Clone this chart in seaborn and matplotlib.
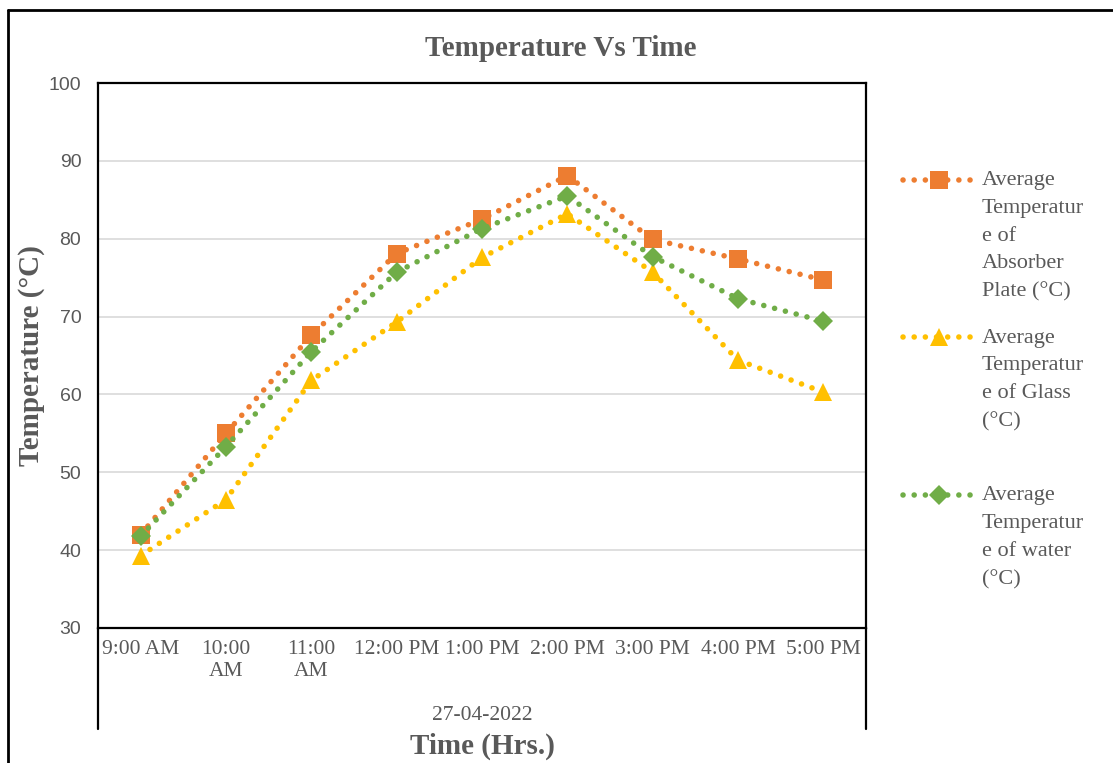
import numpy as np
import pandas as pd
import matplotlib
matplotlib.use("Agg")
import matplotlib.pyplot as plt
import seaborn as sns
from matplotlib.lines import Line2D
from matplotlib.legend_handler import HandlerLine2D

# ---- data -------------------------------------------------------------
times = ["9:00 AM", "10:00 AM", "11:00 AM", "12:00 PM", "1:00 PM",
         "2:00 PM", "3:00 PM", "4:00 PM", "5:00 PM"]
time_tick_labels = ["9:00 AM", "10:00\nAM", "11:00\nAM", "12:00 PM", "1:00 PM",
                    "2:00 PM", "3:00 PM", "4:00 PM", "5:00 PM"]
absorber_plate = [42.0, 55.0, 67.6, 78.1, 82.5, 88.1, 79.9, 77.4, 74.7]
glass = [39.3, 46.5, 61.8, 69.3, 77.6, 83.2, 75.7, 64.4, 60.3]
water = [41.8, 53.3, 65.5, 75.7, 81.3, 85.5, 77.7, 72.3, 69.4]
series_labels = [
    "Average\nTemperatur\ne of\nAbsorber\nPlate (°C)",
    "Average\nTemperatur\ne of Glass\n(°C)\n",
    "Average\nTemperatur\ne of water\n(°C)\n",
]
y_ticks = [30, 40, 50, 60, 70, 80, 90, 100]
date_label = "27-04-2022"

# ---- styling ----------------------------------------------------------
colors = ["#ED7D31", "#FFC000", "#70AD47"]
markers = ["s", "^", "D"]
marker_sizes = [13.5, 12.5, 10.5]
TEXT = "#595959"
SERIF = "Liberation Serif"
LW = 4.0
dot_style = (0, (0.01, 2.0))

sns.set_theme(style="white")
plt.rcParams["font.family"] = [SERIF, "DejaVu Sans"]

W, H = 1113, 763
fig = plt.figure(figsize=(W / 100, H / 100), dpi=100)
ax = fig.add_axes([98 / W, 1 - 628 / H, (866 - 98) / W, (628 - 83) / H])

series_values = [absorber_plate, glass, water]
for vals, col, mk, ms in zip(series_values, colors, markers, marker_sizes):
    df = pd.DataFrame({"time": times, "temp": vals})
    sns.lineplot(data=df, x="time", y="temp", ax=ax, color=col, marker=mk,
                 markersize=ms, markeredgewidth=0, linewidth=LW,
                 linestyle=dot_style, dash_capstyle="round", sort=False,
                 legend=False)

ax.set_xlim(-0.5, len(times) - 0.5)
ax.set_ylim(30, 100)
ax.set_yticks(y_ticks)
ax.set_yticklabels([str(v) for v in y_ticks], family="Liberation Sans",
                   fontsize=14, color=TEXT)
ax.set_xticks(range(len(times)))
ax.set_xticklabels(time_tick_labels, fontsize=15.5, color=TEXT, linespacing=1.2)
ax.tick_params(axis="both", length=0)
ax.tick_params(axis="y", pad=12)
ax.tick_params(axis="x", pad=9)
ax.yaxis.grid(True, color="#D9D9D9", linewidth=1.2)
ax.xaxis.grid(False)
ax.set_axisbelow(True)
for sp in ax.spines.values():
    sp.set_color("black")
    sp.set_linewidth(1.6)

# category axis frame continues below the plot area
ext = -(729 - 628) / (628 - 83)
for xa in (0, 1):
    ax.add_line(Line2D([xa, xa], [0, ext], transform=ax.transAxes,
                       color="black", linewidth=1.6, clip_on=False))

ax.text(0.5, -(716 - 628) / (628 - 83), date_label, transform=ax.transAxes,
        ha="center", va="center", fontsize=15.5, color=TEXT)
ax.set_xlabel("Time (Hrs.)", fontsize=21, fontweight="bold", color=TEXT,
              va="center")
ax.xaxis.set_label_coords(0.5, -(746 - 628) / (628 - 83))
ax.set_ylabel("Temperature (°C)", fontsize=21, fontweight="bold", color=TEXT,
              va="center")
ax.yaxis.set_label_coords(-(98 - 32) / (866 - 98), 0.5)

fig.text(561 / W, 1 - 48 / H, "Temperature Vs Time", ha="center", va="center",
         fontsize=21, fontweight="bold", color=TEXT)

# outer chart border
fig.add_artist(Line2D([7.5 / W, 7.5 / W], [1 - 10 / H, 0], transform=fig.transFigure,
                      color="black", linewidth=2))
fig.add_artist(Line2D([7.5 / W, 1], [1 - 10 / H, 1 - 10 / H], transform=fig.transFigure,
                      color="black", linewidth=2))


class FirstLineHandler(HandlerLine2D):
    """Legend sample aligned with the first line of a multi-line label."""

    def __init__(self, shift, **kw):
        super().__init__(**kw)
        self.shift = shift

    def create_artists(self, legend, orig_handle, xdescent, ydescent, width,
                       height, fontsize, trans):
        arts = super().create_artists(legend, orig_handle, xdescent, ydescent,
                                      width, height, fontsize, trans)
        for a in arts:
            a.set_ydata(np.asarray(a.get_ydata()) + self.shift)
        return arts


handles = [Line2D([], [], color=c, marker=m, markersize=s, markeredgewidth=0,
                  linewidth=LW, linestyle=dot_style, dash_capstyle="round")
           for c, m, s in zip(colors, markers, marker_sizes)]
line_pitch_pt = 28 * 72 / 100
leg = fig.legend(handles, series_labels, loc="upper left",
                 bbox_to_anchor=(903 / W, 1 - 171 / H), frameon=False,
                 fontsize=16, handlelength=3.25, handletextpad=0.3,
                 borderpad=0, borderaxespad=0, labelspacing=1.2, numpoints=1,
                 handler_map={Line2D: FirstLineHandler(2 * line_pitch_pt)})
for t in leg.get_texts():
    t.set_color(TEXT)
    t.set_linespacing(1.63)

fig.savefig("out.png", dpi=100)
